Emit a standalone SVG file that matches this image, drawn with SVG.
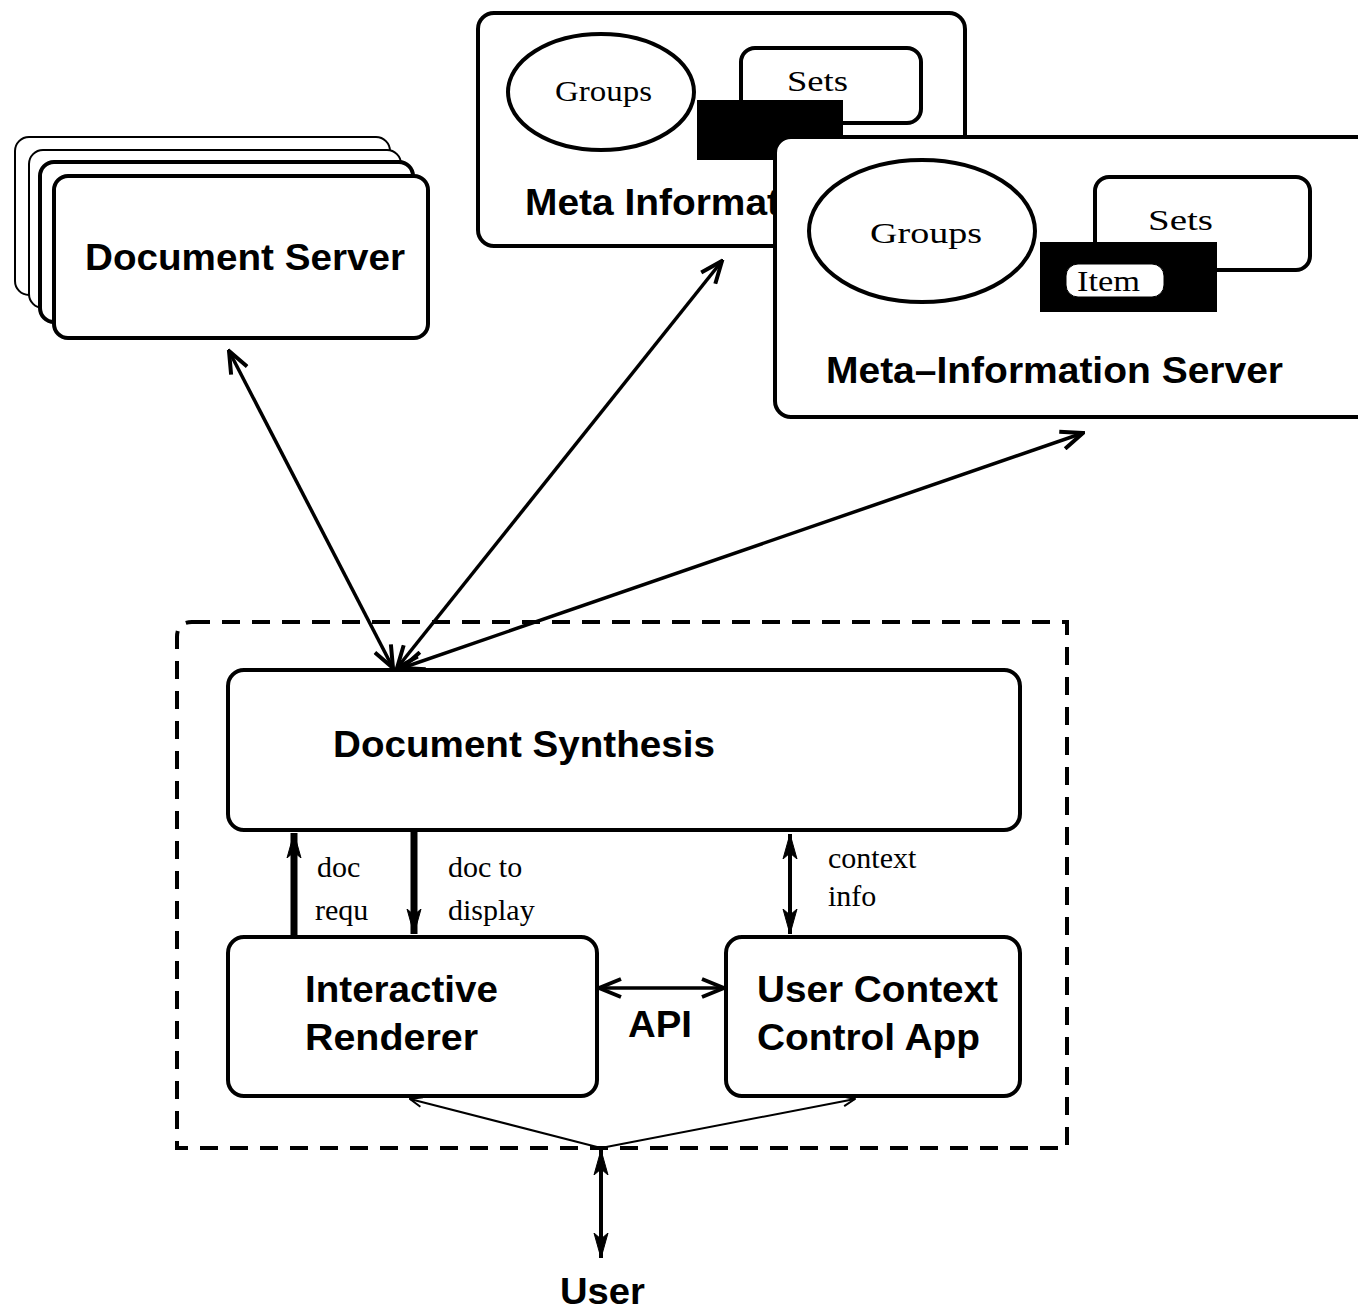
<svg xmlns="http://www.w3.org/2000/svg" width="1358" height="1310" viewBox="0 0 1358 1310">
<defs>
<style>
.box{fill:#fff;stroke:#000;stroke-width:4}
.thin{fill:#fff;stroke:#000;stroke-width:2}
.lbl{font-family:"Liberation Sans",Arial,sans-serif;font-weight:bold;font-size:36px;fill:#000}
.ser{font-family:"Liberation Serif","Times New Roman",serif;font-size:30px;fill:#000}
.ln{fill:none;stroke:#000;stroke-width:3.5}
</style>
<marker id="ah" viewBox="0 0 26 22" refX="24" refY="11" markerWidth="26" markerHeight="22" markerUnits="userSpaceOnUse" orient="auto-start-reverse">
<path d="M2,2 L24,11 L2,20" fill="none" stroke="#000" stroke-width="4"/>
</marker>
<marker id="ahs" viewBox="0 0 14 12" refX="13" refY="6" markerWidth="14" markerHeight="12" markerUnits="userSpaceOnUse" orient="auto-start-reverse">
<path d="M1,1 L13,6 L1,11" fill="none" stroke="#000" stroke-width="2"/>
</marker>
<marker id="ahf" viewBox="0 0 26 16" refX="25" refY="8" markerWidth="26" markerHeight="16" markerUnits="userSpaceOnUse" orient="auto-start-reverse">
<path d="M0,1 L25,8 L0,15 L6,8 Z" fill="#000" stroke="#000" stroke-width="1"/>
</marker>
</defs>
<rect width="1358" height="1310" fill="#fff"/>

<g id="document-server">
<rect class="thin" x="15" y="137" width="375" height="158" rx="14"/>
<rect class="thin" x="29" y="150" width="372" height="158" rx="14"/>
<rect class="box" x="40" y="162" width="373" height="160" rx="14"/>
<rect class="box" x="54" y="176" width="374" height="162" rx="14"/>
<text class="lbl" x="85" y="270" textLength="320" lengthAdjust="spacingAndGlyphs">Document Server</text>
</g>

<g id="meta-information-back">
<rect class="box" x="478" y="13" width="487" height="233" rx="16"/>
<ellipse cx="601" cy="92" rx="93" ry="58" fill="#fff" stroke="#000" stroke-width="4"/>
<text class="ser" x="555" y="101" font-size="32" textLength="97" lengthAdjust="spacingAndGlyphs">Groups</text>
<rect class="box" x="741" y="48" width="180" height="75" rx="14"/>
<text class="ser" x="787" y="91" font-size="32" textLength="61" lengthAdjust="spacingAndGlyphs">Sets</text>
<rect x="697" y="100" width="146" height="60" fill="#000"/>
<text class="lbl" x="525" y="215" font-size="34" textLength="255" lengthAdjust="spacingAndGlyphs">Meta Informat</text>
</g>

<g id="meta-information-server">
<rect class="box" x="775" y="137" width="600" height="280" rx="16"/>
<ellipse cx="922" cy="231" rx="113" ry="71" fill="#fff" stroke="#000" stroke-width="4"/>
<text class="ser" x="870" y="243" font-size="34" textLength="112" lengthAdjust="spacingAndGlyphs">Groups</text>
<rect class="box" x="1095" y="177" width="215" height="93" rx="14"/>
<text class="ser" x="1148" y="230" font-size="34" textLength="65" lengthAdjust="spacingAndGlyphs">Sets</text>
<rect x="1040" y="242" width="177" height="70" fill="#000"/>
<rect x="1066" y="264" width="98" height="33" rx="12" fill="#fff" stroke="#000" stroke-width="1"/>
<text class="ser" x="1077" y="291" font-size="28" textLength="63" lengthAdjust="spacingAndGlyphs">Item</text>
<text class="lbl" x="826" y="383" textLength="457" lengthAdjust="spacingAndGlyphs">Meta–Information Server</text>
</g>

<g id="client-boundary">
<path d="M192,622 L1067,622 L1067,1148 L177,1148 L177,637 Q177,622 192,622 Z" fill="none" stroke="#000" stroke-width="4" stroke-dasharray="18,12"/>
</g>

<g id="document-synthesis">
<rect class="box" x="228" y="670" width="792" height="160" rx="16"/>
<text class="lbl" x="333" y="757" textLength="382" lengthAdjust="spacingAndGlyphs">Document Synthesis</text>
</g>

<g id="interactive-renderer">
<rect class="box" x="228" y="937" width="369" height="159" rx="16"/>
<text class="lbl" x="305" y="1002" textLength="193" lengthAdjust="spacingAndGlyphs">Interactive</text>
<text class="lbl" x="305" y="1050" textLength="173" lengthAdjust="spacingAndGlyphs">Renderer</text>
</g>

<g id="user-context-control-app">
<rect class="box" x="726" y="937" width="294" height="159" rx="16"/>
<text class="lbl" x="757" y="1002" textLength="241" lengthAdjust="spacingAndGlyphs">User Context</text>
<text class="lbl" x="757" y="1050" textLength="223" lengthAdjust="spacingAndGlyphs">Control App</text>
</g>

<g id="user">
<text class="lbl" x="560" y="1304" textLength="85" lengthAdjust="spacingAndGlyphs">User</text>
</g>

<g id="connectors">
<line class="ln" x1="393" y1="668" x2="229" y2="351" marker-start="url(#ah)" marker-end="url(#ah)"/>
<line class="ln" x1="397" y1="668" x2="722" y2="261" marker-start="url(#ah)" marker-end="url(#ah)"/>
<line class="ln" x1="402" y1="668" x2="1083" y2="433" marker-start="url(#ah)" marker-end="url(#ah)"/>
<line x1="294" y1="937" x2="294" y2="833" stroke="#000" stroke-width="7" marker-end="url(#ahf)"/>
<line x1="414" y1="830" x2="414" y2="934" stroke="#000" stroke-width="7" marker-end="url(#ahf)"/>
<line x1="790" y1="834" x2="790" y2="934" stroke="#000" stroke-width="4" marker-start="url(#ahf)" marker-end="url(#ahf)"/>
<line class="ln" x1="599" y1="988" x2="724" y2="988" stroke-width="4" marker-start="url(#ah)" marker-end="url(#ah)"/>
<line x1="601" y1="1148" x2="410" y2="1099" stroke="#000" stroke-width="2" marker-end="url(#ahs)"/>
<line x1="601" y1="1148" x2="855" y2="1099" stroke="#000" stroke-width="2" marker-end="url(#ahs)"/>
<line x1="601" y1="1150" x2="601" y2="1258" stroke="#000" stroke-width="4" marker-start="url(#ahf)" marker-end="url(#ahf)"/>
<text class="ser" x="317" y="877" font-size="28">doc</text>
<text class="ser" x="315" y="920" font-size="28">requ</text>
<text class="ser" x="448" y="877" font-size="28">doc to</text>
<text class="ser" x="448" y="920" font-size="28">display</text>
<text class="ser" x="828" y="868" font-size="24">context</text>
<text class="ser" x="828" y="906" font-size="24">info</text>
<text class="lbl" x="628" y="1037" textLength="64" lengthAdjust="spacingAndGlyphs">API</text>
</g>
</svg>
